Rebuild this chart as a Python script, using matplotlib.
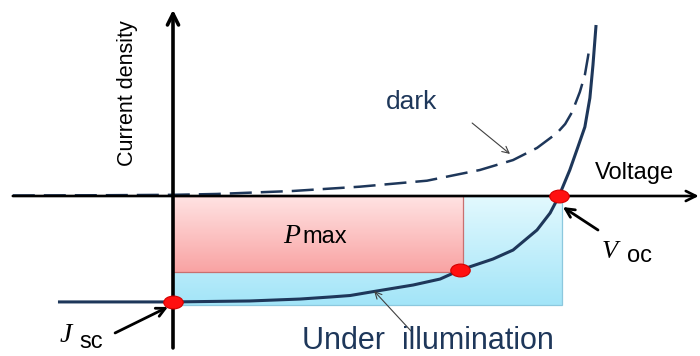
"""Solar cell J-V schematic: dark vs illuminated curve, Jsc, Voc and Pmax."""

import matplotlib

matplotlib.use("Agg")
import matplotlib.pyplot as plt
import numpy as np
from matplotlib.colors import LinearSegmentedColormap
from matplotlib.patches import Rectangle
from matplotlib.path import Path
from matplotlib.transforms import Affine2D

plt.rcParams["font.family"] = ["Liberation Sans", "DejaVu Sans"]

# normalised units: Voc = 1, |Jsc| = 1
dark_v = [-0.415, -0.189, 0.0, 0.114, 0.311, 0.484, 0.658, 0.744, 0.795,
          0.881, 0.943, 0.995, 1.016, 1.034, 1.054, 1.067, 1.075, 1.080]
dark_j = [0.005, 0.007, 0.011, 0.019, 0.047, 0.087, 0.143, 0.206, 0.243,
          0.336, 0.449, 0.589, 0.673, 0.785, 0.972, 1.131, 1.299, 1.411]

light_v = [-0.298, 0.0, 0.199, 0.329, 0.407, 0.459, 0.518, 0.622, 0.692,
           0.744, 0.829, 0.881, 0.943, 0.977, 1.0, 1.028, 1.049, 1.067,
           1.080, 1.088, 1.096]
light_j = [-0.99, -0.99, -0.981, -0.963, -0.944, -0.930, -0.894, -0.832,
           -0.776, -0.692, -0.589, -0.505, -0.318, -0.159, 0.0, 0.243, 0.458,
           0.645, 0.916, 1.224, 1.598]

# Jsc, Pmax, Voc
point_v = [0.0, 0.744, 1.0]
point_j = [-0.99, -0.692, 0.0]
v_mp, j_mp = 0.751, -0.71
v_oc, j_sc = 1.008, -1.019

NAVY = "#1e375a"

fig = plt.figure(figsize=(7, 3.56), dpi=100)
ax = fig.add_axes([0, 0, 1, 1])
ax.axis("off")


def gradient_rect(x1, y1, top, bottom, edge, z):
    cmap = LinearSegmentedColormap.from_list("g", [top, bottom])
    ax.imshow(np.linspace(0, 1, 256).reshape(-1, 1), cmap=cmap,
              extent=(0, x1, y1, 0), origin="upper", aspect="auto", zorder=z)
    ax.add_patch(Rectangle((0, y1), x1, -y1, fill=False, edgecolor=edge,
                           lw=0.9, zorder=z))


gradient_rect(v_oc, j_sc, "#e3f9fe", "#a3e5f8", "#8cc8de", 1)
gradient_rect(v_mp, j_mp, "#ffe3e3", "#f9a3a3", "#c87070", 2)

ax.plot(dark_v, dark_j, color=NAVY, lw=1.8, ls=(0, (8.8, 3.6)), zorder=3)
ax.plot(light_v, light_j, color=NAVY, lw=2.2, zorder=3,
        solid_capstyle="butt", solid_joinstyle="round")

# axes with arrow heads
ax.annotate("", xy=(1.362, 0), xytext=(-0.415, 0),
            arrowprops=dict(arrowstyle="->", lw=1.9, color="black",
                            mutation_scale=18, shrinkA=0, shrinkB=0),
            zorder=4)
ax.annotate("", xy=(0, 1.74), xytext=(0, -1.42),
            arrowprops=dict(arrowstyle="->", lw=2.6, color="black",
                            mutation_scale=20, shrinkA=0, shrinkB=0),
            zorder=4)

ellipse = Path.unit_circle().transformed(Affine2D().scale(1.0, 0.66))
ax.plot(point_v, point_j, ls="none", marker=ellipse, ms=14,
        mfc="#ff1010", mec="#d40000", mew=0.8, zorder=5)

# pointer arrows
thin = dict(arrowstyle="->", lw=0.8, color="#404040", mutation_scale=12,
            shrinkA=0, shrinkB=0)
thick = dict(arrowstyle="->", lw=2.0, color="black", mutation_scale=16,
             shrinkA=0, shrinkB=0)
ax.annotate("", xy=(0.873, 0.393), xytext=(0.775, 0.682), arrowprops=thin)
ax.annotate("", xy=(0.521, -0.888), xytext=(0.619, -1.271), arrowprops=thin)
ax.annotate("", xy=(-0.013, -1.037), xytext=(-0.150, -1.280), arrowprops=thick)
ax.annotate("", xy=(1.010, -0.103), xytext=(1.101, -0.318), arrowprops=thick)

# labels
ax.text(-0.117, 0.963, "Current density", rotation=90, ha="center",
        va="center", fontsize=15.5, color="black")
ax.text(0.552, 0.813, "dark", fontsize=19, color=NAVY, va="baseline")
ax.text(1.093, 0.159, "Voltage", fontsize=17, color="black", va="baseline")
ax.text(0.334, -1.43, "Under  illumination", fontsize=22, color=NAVY,
        va="baseline")

serif_it = dict(family="Liberation Serif", style="italic", va="baseline",
                color="black")
ax.text(0.285, -0.44, "P", fontsize=20, **serif_it)
ax.text(0.336, -0.44, "max", fontsize=17, va="baseline", color="black")
ax.text(-0.293, -1.364, "J", fontsize=20, **serif_it)
ax.text(-0.243, -1.42, "sc", fontsize=17, va="baseline", color="black")
ax.text(1.111, -0.579, "V", fontsize=19, **serif_it)
ax.text(1.176, -0.617, "oc", fontsize=17, va="baseline", color="black")

ax.set_xlim(-173 / 386, 527 / 386)
ax.set_ylim(-160 / 107, 196 / 107)

fig.savefig("out.png", dpi=100)
